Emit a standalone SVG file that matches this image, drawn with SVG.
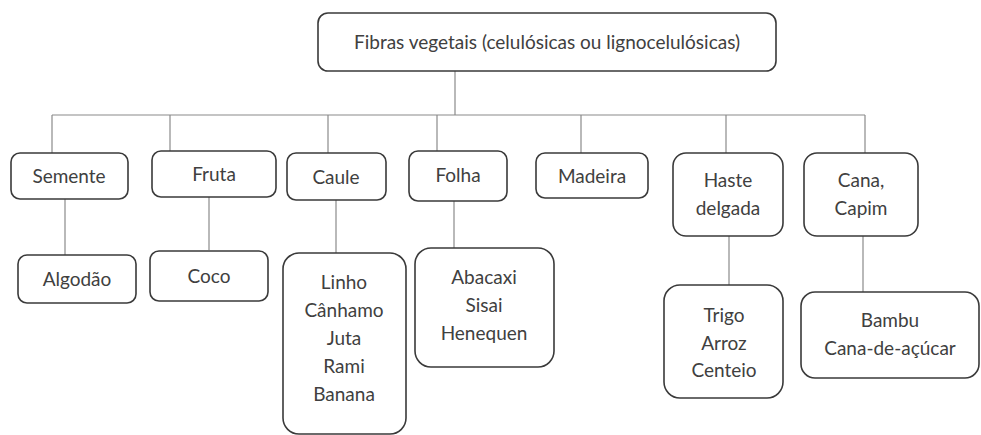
<svg xmlns="http://www.w3.org/2000/svg" width="981" height="435" viewBox="0 0 981 435">
<style>
.box{fill:#fff;stroke:#3a3a3a;stroke-width:1.6}
.t{font-family:Lato,"Open Sans",sans-serif;font-size:19px;fill:#404040;text-anchor:middle}
.c{stroke:#8a8a8a;stroke-width:1.2;fill:none}
</style>
<rect width="981" height="435" fill="#fff"/>
<g id="connectors">
<line class="c" x1="455" y1="71" x2="455" y2="115"/>
<line class="c" x1="52" y1="115" x2="865" y2="115"/>
<line class="c" x1="52" y1="115" x2="52" y2="153"/>
<line class="c" x1="170" y1="115" x2="170" y2="151"/>
<line class="c" x1="328" y1="115" x2="328" y2="153"/>
<line class="c" x1="437" y1="115" x2="437" y2="151"/>
<line class="c" x1="581" y1="115" x2="581" y2="153"/>
<line class="c" x1="726" y1="115" x2="726" y2="153"/>
<line class="c" x1="865" y1="115" x2="865" y2="153"/>
<line class="c" x1="65" y1="199" x2="65" y2="255"/>
<line class="c" x1="209" y1="197" x2="209" y2="250"/>
<line class="c" x1="336" y1="200" x2="336" y2="253"/>
<line class="c" x1="454" y1="201" x2="454" y2="248"/>
<line class="c" x1="729" y1="236" x2="729" y2="285"/>
<line class="c" x1="863" y1="236" x2="863" y2="292"/>
</g>
<g id="root"><rect class="box" x="318" y="13" width="458" height="58" rx="10"/><text class="t" x="547" y="49">Fibras vegetais (celulósicas ou lignocelulósicas)</text></g>
<g id="semente"><rect class="box" x="11" y="153" width="117" height="46" rx="9"/><text class="t" x="69" y="183">Semente</text></g>
<g id="fruta"><rect class="box" x="152" y="151" width="124" height="46" rx="9"/><text class="t" x="214" y="181">Fruta</text></g>
<g id="caule"><rect class="box" x="287" y="153" width="99" height="47" rx="9"/><text class="t" x="336" y="184">Caule</text></g>
<g id="folha"><rect class="box" x="409" y="151" width="98" height="50" rx="9"/><text class="t" x="458" y="182">Folha</text></g>
<g id="madeira"><rect class="box" x="536" y="153" width="112" height="45" rx="9"/><text class="t" x="592" y="183">Madeira</text></g>
<g id="haste"><rect class="box" x="673" y="153" width="110" height="83" rx="13"/><text class="t" x="728" y="187">Haste</text><text class="t" x="728" y="215">delgada</text></g>
<g id="cana"><rect class="box" x="804" y="153" width="114" height="83" rx="13"/><text class="t" x="861" y="187">Cana,</text><text class="t" x="861" y="215">Capim</text></g>
<g id="algodao"><rect class="box" x="18" y="255" width="118" height="48" rx="9"/><text class="t" x="77" y="286">Algodão</text></g>
<g id="coco"><rect class="box" x="150" y="251" width="118" height="50" rx="9"/><text class="t" x="209" y="283">Coco</text></g>
<g id="linho"><rect class="box" x="283" y="253" width="123" height="181" rx="16"/><text class="t" x="344" y="289">Linho</text><text class="t" x="344" y="317">Cânhamo</text><text class="t" x="344" y="345">Juta</text><text class="t" x="344" y="373">Rami</text><text class="t" x="344" y="401">Banana</text></g>
<g id="abacaxi"><rect class="box" x="415" y="248" width="139" height="119" rx="16"/><text class="t" x="484" y="284">Abacaxi</text><text class="t" x="484" y="312">Sisai</text><text class="t" x="484" y="340">Henequen</text></g>
<g id="trigo"><rect class="box" x="664" y="285" width="119" height="113" rx="16"/><text class="t" x="724" y="322">Trigo</text><text class="t" x="724" y="350">Arroz</text><text class="t" x="724" y="377">Centeio</text></g>
<g id="bambu"><rect class="box" x="801" y="292" width="178" height="86" rx="14"/><text class="t" x="890" y="327">Bambu</text><text class="t" x="890" y="355">Cana-de-açúcar</text></g>
</svg>
